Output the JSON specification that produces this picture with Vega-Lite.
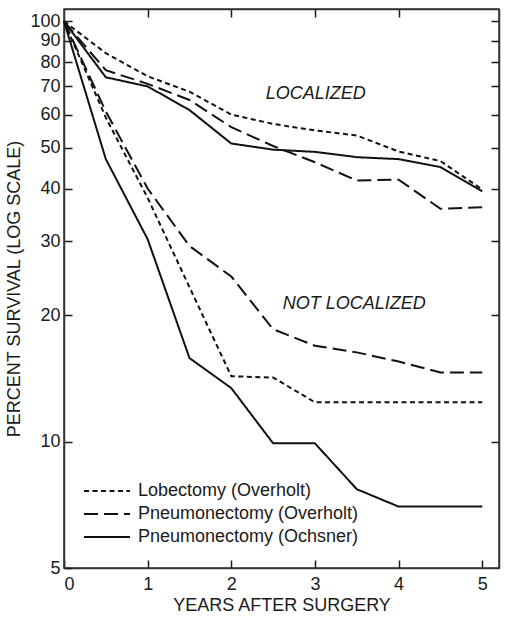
{
  "$schema": "https://vega.github.io/schema/vega-lite/v6.json",
  "width": 435,
  "height": 559,
  "autosize": {"type": "none"},
  "padding": {"left": 64, "top": 9, "right": 7, "bottom": 51},
  "background": "white",
  "config": {
    "font": "Liberation Sans",
    "view": {"stroke": "#333333", "strokeWidth": 1.5},
    "axis": {
      "labelFont": "Liberation Sans", "labelFontSize": 18, "labelColor": "#1a1a1a",
      "titleFont": "Liberation Sans", "titleFontSize": 18, "titleFontWeight": "normal", "titleColor": "#1a1a1a",
      "tickColor": "#1a1a1a", "tickSize": -8, "tickWidth": 1.5,
      "domainColor": "#333333", "domainWidth": 1.5, "grid": false
    }
  },
  "datasets": {
    "curves": [
      {"series": "LO-L", "procedure": "Lobectomy (Overholt)", "years": 0, "survival": 100},
      {"series": "LO-L", "procedure": "Lobectomy (Overholt)", "years": 0.5, "survival": 84},
      {"series": "LO-L", "procedure": "Lobectomy (Overholt)", "years": 1, "survival": 74},
      {"series": "LO-L", "procedure": "Lobectomy (Overholt)", "years": 1.5, "survival": 68},
      {"series": "LO-L", "procedure": "Lobectomy (Overholt)", "years": 2, "survival": 60},
      {"series": "LO-L", "procedure": "Lobectomy (Overholt)", "years": 2.5, "survival": 57},
      {"series": "LO-L", "procedure": "Lobectomy (Overholt)", "years": 3, "survival": 55},
      {"series": "LO-L", "procedure": "Lobectomy (Overholt)", "years": 3.5, "survival": 53.5},
      {"series": "LO-L", "procedure": "Lobectomy (Overholt)", "years": 4, "survival": 49},
      {"series": "LO-L", "procedure": "Lobectomy (Overholt)", "years": 4.5, "survival": 46.5},
      {"series": "LO-L", "procedure": "Lobectomy (Overholt)", "years": 5, "survival": 39.8},
      {"series": "PO-L", "procedure": "Pneumonectomy (Overholt)", "years": 0, "survival": 100},
      {"series": "PO-L", "procedure": "Pneumonectomy (Overholt)", "years": 0.5, "survival": 76.5},
      {"series": "PO-L", "procedure": "Pneumonectomy (Overholt)", "years": 1, "survival": 71},
      {"series": "PO-L", "procedure": "Pneumonectomy (Overholt)", "years": 1.5, "survival": 65},
      {"series": "PO-L", "procedure": "Pneumonectomy (Overholt)", "years": 2, "survival": 56},
      {"series": "PO-L", "procedure": "Pneumonectomy (Overholt)", "years": 2.5, "survival": 50.5},
      {"series": "PO-L", "procedure": "Pneumonectomy (Overholt)", "years": 3, "survival": 46.2},
      {"series": "PO-L", "procedure": "Pneumonectomy (Overholt)", "years": 3.5, "survival": 41.8},
      {"series": "PO-L", "procedure": "Pneumonectomy (Overholt)", "years": 4, "survival": 42},
      {"series": "PO-L", "procedure": "Pneumonectomy (Overholt)", "years": 4.5, "survival": 35.8},
      {"series": "PO-L", "procedure": "Pneumonectomy (Overholt)", "years": 5, "survival": 36.1},
      {"series": "OC-L", "procedure": "Pneumonectomy (Ochsner)", "years": 0, "survival": 100},
      {"series": "OC-L", "procedure": "Pneumonectomy (Ochsner)", "years": 0.5, "survival": 73.6},
      {"series": "OC-L", "procedure": "Pneumonectomy (Ochsner)", "years": 1, "survival": 70},
      {"series": "OC-L", "procedure": "Pneumonectomy (Ochsner)", "years": 1.5, "survival": 61.5},
      {"series": "OC-L", "procedure": "Pneumonectomy (Ochsner)", "years": 2, "survival": 51.2},
      {"series": "OC-L", "procedure": "Pneumonectomy (Ochsner)", "years": 2.5, "survival": 49.5},
      {"series": "OC-L", "procedure": "Pneumonectomy (Ochsner)", "years": 3, "survival": 48.9},
      {"series": "OC-L", "procedure": "Pneumonectomy (Ochsner)", "years": 3.5, "survival": 47.5},
      {"series": "OC-L", "procedure": "Pneumonectomy (Ochsner)", "years": 4, "survival": 47},
      {"series": "OC-L", "procedure": "Pneumonectomy (Ochsner)", "years": 4.5, "survival": 45},
      {"series": "OC-L", "procedure": "Pneumonectomy (Ochsner)", "years": 5, "survival": 39.4},
      {"series": "LO-N", "procedure": "Lobectomy (Overholt)", "years": 0, "survival": 100},
      {"series": "LO-N", "procedure": "Lobectomy (Overholt)", "years": 0.5, "survival": 59},
      {"series": "LO-N", "procedure": "Lobectomy (Overholt)", "years": 1, "survival": 38},
      {"series": "LO-N", "procedure": "Lobectomy (Overholt)", "years": 1.5, "survival": 23.3},
      {"series": "LO-N", "procedure": "Lobectomy (Overholt)", "years": 2, "survival": 14.3},
      {"series": "LO-N", "procedure": "Lobectomy (Overholt)", "years": 2.5, "survival": 14.2},
      {"series": "LO-N", "procedure": "Lobectomy (Overholt)", "years": 3, "survival": 12.4},
      {"series": "LO-N", "procedure": "Lobectomy (Overholt)", "years": 3.5, "survival": 12.4},
      {"series": "LO-N", "procedure": "Lobectomy (Overholt)", "years": 4, "survival": 12.4},
      {"series": "LO-N", "procedure": "Lobectomy (Overholt)", "years": 4.5, "survival": 12.4},
      {"series": "LO-N", "procedure": "Lobectomy (Overholt)", "years": 5, "survival": 12.4},
      {"series": "PO-N", "procedure": "Pneumonectomy (Overholt)", "years": 0, "survival": 100},
      {"series": "PO-N", "procedure": "Pneumonectomy (Overholt)", "years": 0.5, "survival": 61},
      {"series": "PO-N", "procedure": "Pneumonectomy (Overholt)", "years": 1, "survival": 40},
      {"series": "PO-N", "procedure": "Pneumonectomy (Overholt)", "years": 1.5, "survival": 29.2},
      {"series": "PO-N", "procedure": "Pneumonectomy (Overholt)", "years": 2, "survival": 24.7},
      {"series": "PO-N", "procedure": "Pneumonectomy (Overholt)", "years": 2.5, "survival": 18.5},
      {"series": "PO-N", "procedure": "Pneumonectomy (Overholt)", "years": 3, "survival": 16.9},
      {"series": "PO-N", "procedure": "Pneumonectomy (Overholt)", "years": 3.5, "survival": 16.3},
      {"series": "PO-N", "procedure": "Pneumonectomy (Overholt)", "years": 4, "survival": 15.5},
      {"series": "PO-N", "procedure": "Pneumonectomy (Overholt)", "years": 4.5, "survival": 14.6},
      {"series": "PO-N", "procedure": "Pneumonectomy (Overholt)", "years": 5, "survival": 14.6},
      {"series": "OC-N", "procedure": "Pneumonectomy (Ochsner)", "years": 0, "survival": 100},
      {"series": "OC-N", "procedure": "Pneumonectomy (Ochsner)", "years": 0.5, "survival": 47},
      {"series": "OC-N", "procedure": "Pneumonectomy (Ochsner)", "years": 1, "survival": 30.3},
      {"series": "OC-N", "procedure": "Pneumonectomy (Ochsner)", "years": 1.5, "survival": 15.8},
      {"series": "OC-N", "procedure": "Pneumonectomy (Ochsner)", "years": 2, "survival": 13.4},
      {"series": "OC-N", "procedure": "Pneumonectomy (Ochsner)", "years": 2.5, "survival": 9.9},
      {"series": "OC-N", "procedure": "Pneumonectomy (Ochsner)", "years": 3, "survival": 9.9},
      {"series": "OC-N", "procedure": "Pneumonectomy (Ochsner)", "years": 3.5, "survival": 7.7},
      {"series": "OC-N", "procedure": "Pneumonectomy (Ochsner)", "years": 4, "survival": 7.0},
      {"series": "OC-N", "procedure": "Pneumonectomy (Ochsner)", "years": 4.5, "survival": 7.0},
      {"series": "OC-N", "procedure": "Pneumonectomy (Ochsner)", "years": 5, "survival": 7.0}
    ],
    "labels": [
      {"label": "LOCALIZED", "years": 3.01, "survival": 67},
      {"label": "NOT LOCALIZED", "years": 3.47, "survival": 21.3}
    ]
  },
  "layer": [
    {
      "data": {"name": "curves"},
      "mark": {"type": "line", "color": "#111111", "strokeWidth": 2},
      "encoding": {
        "x": {
          "field": "years", "type": "quantitative",
          "scale": {"domain": [0, 5.2], "nice": false, "zero": false},
          "axis": {"orient": "bottom", "values": [0, 1, 2, 3, 4, 5], "title": "YEARS AFTER SURGERY", "labelPadding": 15, "titlePadding": 3}
        },
        "y": {
          "field": "survival", "type": "quantitative",
          "scale": {"type": "log", "domain": [5, 107], "nice": false},
          "axis": {"orient": "left", "values": [5, 10, 20, 30, 40, 50, 60, 70, 80, 90, 100], "format": "d", "title": "PERCENT SURVIVAL (LOG SCALE)", "labelPadding": 12, "titlePadding": 6}
        },
        "detail": {"field": "series"},
        "strokeDash": {
          "field": "procedure", "type": "nominal",
          "scale": {
            "domain": ["Lobectomy (Overholt)", "Pneumonectomy (Overholt)", "Pneumonectomy (Ochsner)"],
            "range": [[5, 3.5], [14, 6], [1, 0]]
          },
          "legend": {
            "orient": "none", "legendX": 19, "legendY": 471, "title": null,
            "padding": 0, "symbolType": "M-1,0L3.6,0", "symbolSize": 400, "symbolStrokeWidth": 2,
            "symbolStrokeColor": "#111111", "symbolFillColor": "transparent", "labelFont": "Liberation Sans", "labelFontSize": 18,
            "labelColor": "#1a1a1a", "labelOffset": 33, "labelLimit": 0, "rowPadding": 3
          }
        }
      }
    },
    {
      "data": {"name": "labels"},
      "mark": {"type": "text", "font": "Liberation Sans", "fontSize": 18, "fontStyle": "italic", "color": "#1a1a1a"},
      "encoding": {
        "x": {
          "field": "years", "type": "quantitative",
          "axis": {"orient": "top", "values": [1, 2, 3, 4], "labels": false, "title": null}
        },
        "y": {
          "field": "survival", "type": "quantitative",
          "axis": {"orient": "right", "values": [10, 20, 30, 40, 50, 60, 70, 80, 90, 100], "labels": false, "title": null}
        },
        "text": {"field": "label"}
      }
    }
  ],
  "resolve": {"axis": {"x": "independent", "y": "independent"}}
}
